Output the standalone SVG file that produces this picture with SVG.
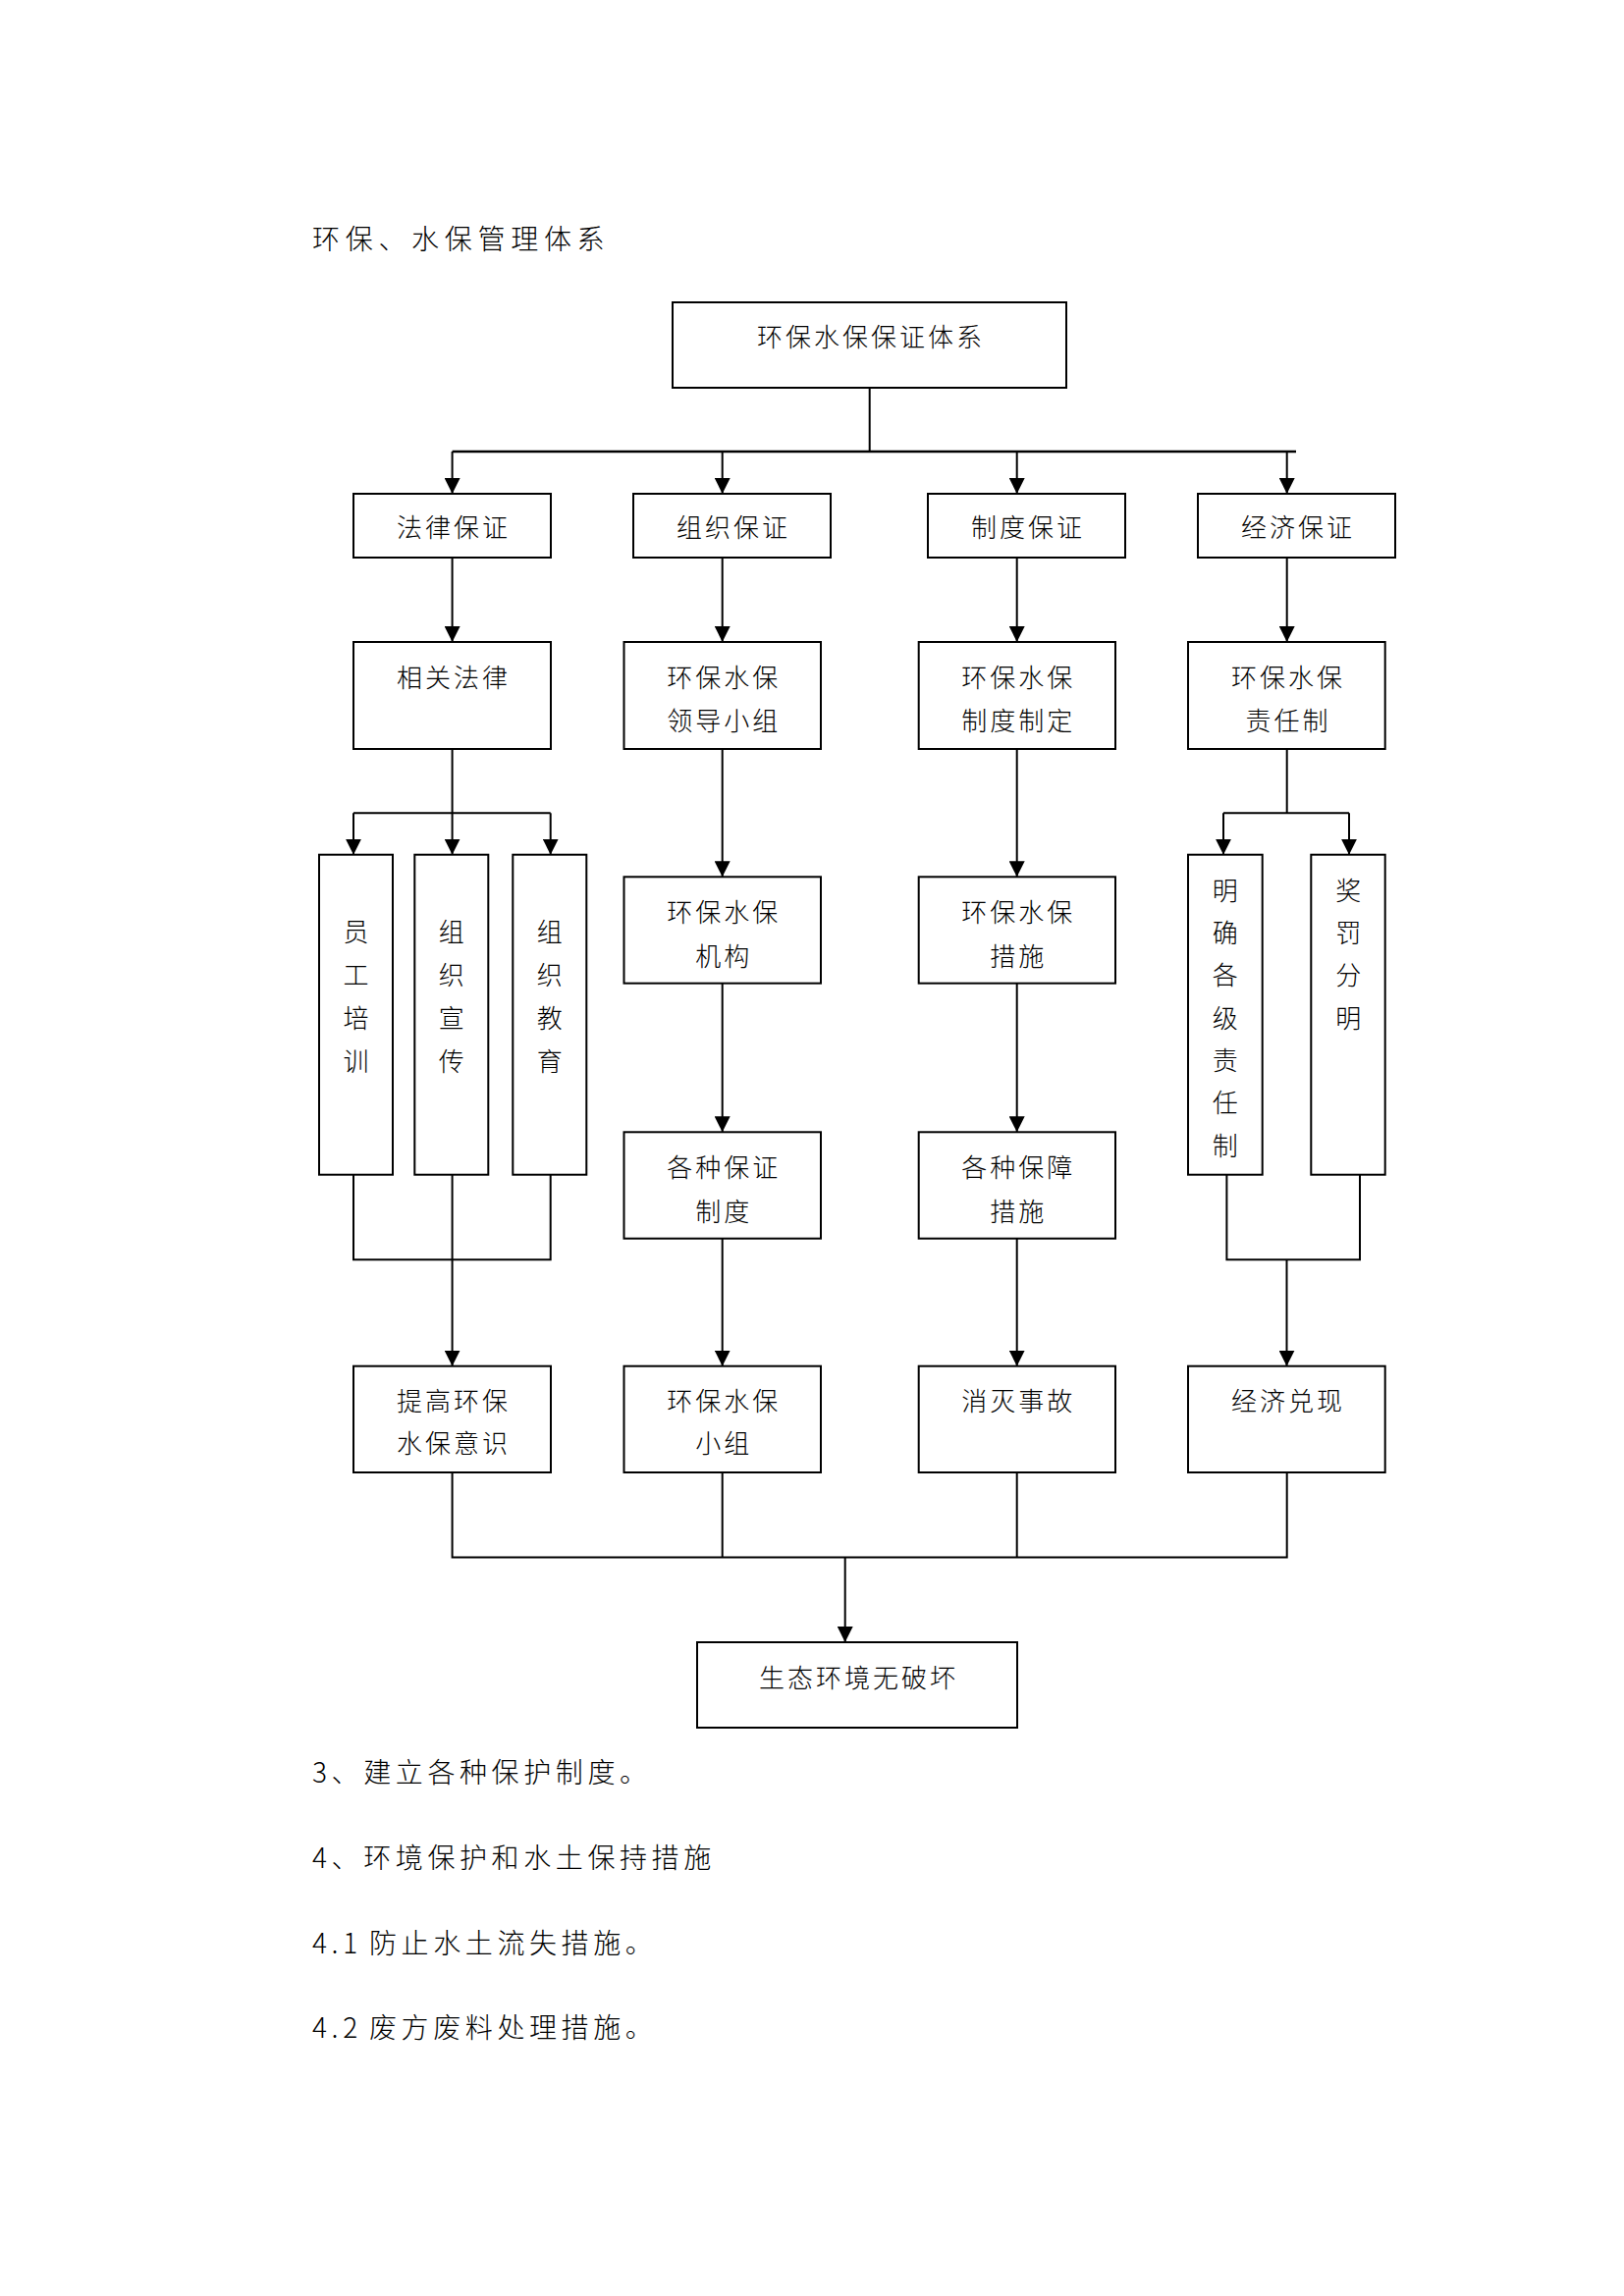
<svg xmlns="http://www.w3.org/2000/svg" width="1654" height="2339" viewBox="0 0 1654 2339">
<style>
.box{fill:#fff;stroke:#000;stroke-width:2}
.ln{fill:none;stroke:#000;stroke-width:2}
.bar{fill:none;stroke:#000;stroke-width:2.6}
.ar{marker-end:url(#arr)}
text{font-family:"Noto Sans CJK SC","Noto Sans",sans-serif;fill:#000;font-weight:300;dominant-baseline:central}
.t{font-size:26px;letter-spacing:3px;text-anchor:middle}
.v{font-size:26px;letter-spacing:0;text-anchor:middle}
.body{font-size:28px;letter-spacing:4.6px;text-anchor:start}
.title{font-size:28px;letter-spacing:5.7px;text-anchor:start}
</style>
<defs>
<marker id="arr" markerUnits="userSpaceOnUse" markerWidth="16" markerHeight="16" viewBox="0 0 16 16" refX="16" refY="8" orient="auto"><path d="M0,0 L16,8 L0,16 z" fill="#000"/></marker>
</defs>
<rect width="1654" height="2339" fill="#fff"/>

<text class="title" x="318" y="242">环保、水保管理体系</text>

<g id="connectors">
<path class="ln" d="M885.7,395 V460"/>
<path class="bar" d="M460.6,460 H1320"/>
<path class="ln ar" d="M460.6,460 V503"/>
<path class="ln ar" d="M735.7,460 V503"/>
<path class="ln ar" d="M1035.7,460 V503"/>
<path class="ln ar" d="M1310.7,460 V503"/>

<path class="ln ar" d="M460.6,568 V654"/>
<path class="ln ar" d="M735.7,568 V654"/>
<path class="ln ar" d="M1035.7,568 V654"/>
<path class="ln ar" d="M1310.7,568 V654"/>

<path class="ln ar" d="M460.6,763 V870.7"/>
<path class="ln" d="M360,828.3 H560.7"/>
<path class="ln ar" d="M360,828.3 V870.7"/>
<path class="ln ar" d="M560.7,828.3 V870.7"/>
<path class="ln" d="M360,1196.7 V1283.3 H560.7 V1196.7"/>
<path class="ln ar" d="M460.6,1196.7 V1391.7"/>

<path class="ln ar" d="M735.7,763 V893.3"/>
<path class="ln ar" d="M735.7,1001.7 V1153.3"/>
<path class="ln ar" d="M735.7,1261.7 V1391.7"/>

<path class="ln ar" d="M1035.7,763 V893.3"/>
<path class="ln ar" d="M1035.7,1001.7 V1153.3"/>
<path class="ln ar" d="M1035.7,1261.7 V1391.7"/>

<path class="ln" d="M1310.7,763 V828.3"/>
<path class="ln" d="M1246,828.3 H1374"/>
<path class="ln ar" d="M1246,828.3 V870.7"/>
<path class="ln ar" d="M1374,828.3 V870.7"/>
<path class="ln" d="M1249.4,1196.7 V1283.3 H1385 V1196.7"/>
<path class="ln ar" d="M1310.5,1283.3 V1391.7"/>

<path class="ln" d="M460.6,1500 V1586.5 H1310.7 V1500"/>
<path class="ln" d="M735.7,1500 V1586.5"/>
<path class="ln" d="M1035.7,1500 V1586.5"/>
<path class="ln ar" d="M860.7,1586.5 V1673"/>
</g>

<g id="n-top"><rect class="box" x="685" y="308" width="401" height="87"/><text class="t" x="887" y="341">环保水保保证体系</text></g>

<g id="n-law"><rect class="box" x="360" y="503" width="201" height="65"/><text class="t" x="462" y="535.5">法律保证</text></g>
<g id="n-org"><rect class="box" x="645" y="503" width="201" height="65"/><text class="t" x="747" y="535.5">组织保证</text></g>
<g id="n-sys"><rect class="box" x="945" y="503" width="201" height="65"/><text class="t" x="1047" y="535.5">制度保证</text></g>
<g id="n-eco"><rect class="box" x="1220" y="503" width="201" height="65"/><text class="t" x="1322" y="535.5">经济保证</text></g>

<g id="n-law2"><rect class="box" x="360" y="654" width="201" height="109"/><text class="t" x="462" y="688">相关法律</text></g>
<g id="n-org2"><rect class="box" x="635.5" y="654" width="200.5" height="109"/><text class="t" x="737.2" y="688">环保水保</text><text class="t" x="737.2" y="732">领导小组</text></g>
<g id="n-sys2"><rect class="box" x="935.7" y="654" width="200.3" height="109"/><text class="t" x="1037.3" y="688">环保水保</text><text class="t" x="1037.3" y="732">制度制定</text></g>
<g id="n-eco2"><rect class="box" x="1210" y="654" width="200.7" height="109"/><text class="t" x="1311.9" y="688">环保水保</text><text class="t" x="1311.9" y="732">责任制</text></g>

<g id="n-v1"><rect class="box" x="325" y="870.7" width="75" height="326"/>
<text class="v" x="362.5" y="947">员</text><text class="v" x="362.5" y="991">工</text><text class="v" x="362.5" y="1035">培</text><text class="v" x="362.5" y="1079">训</text></g>
<g id="n-v2"><rect class="box" x="422.3" y="870.7" width="75" height="326"/>
<text class="v" x="459.8" y="947">组</text><text class="v" x="459.8" y="991">织</text><text class="v" x="459.8" y="1035">宣</text><text class="v" x="459.8" y="1079">传</text></g>
<g id="n-v3"><rect class="box" x="522.3" y="870.7" width="75" height="326"/>
<text class="v" x="559.8" y="947">组</text><text class="v" x="559.8" y="991">织</text><text class="v" x="559.8" y="1035">教</text><text class="v" x="559.8" y="1079">育</text></g>

<g id="n-org3"><rect class="box" x="635.5" y="893.3" width="200.5" height="108.4"/><text class="t" x="737.2" y="927">环保水保</text><text class="t" x="737.2" y="972">机构</text></g>
<g id="n-sys3"><rect class="box" x="935.7" y="893.3" width="200.3" height="108.4"/><text class="t" x="1037.3" y="927">环保水保</text><text class="t" x="1037.3" y="972">措施</text></g>

<g id="n-v4"><rect class="box" x="1210" y="870.7" width="75.7" height="326"/>
<text class="v" x="1247.7" y="905">明</text><text class="v" x="1247.7" y="948.3">确</text><text class="v" x="1247.7" y="991.7">各</text><text class="v" x="1247.7" y="1035">级</text><text class="v" x="1247.7" y="1078.3">责</text><text class="v" x="1247.7" y="1121.7">任</text><text class="v" x="1247.7" y="1165">制</text></g>
<g id="n-v5"><rect class="box" x="1335.3" y="870.7" width="75.4" height="326"/>
<text class="v" x="1373.3" y="905">奖</text><text class="v" x="1373.3" y="948.3">罚</text><text class="v" x="1373.3" y="991.7">分</text><text class="v" x="1373.3" y="1035">明</text></g>

<g id="n-org4"><rect class="box" x="635.5" y="1153.3" width="200.5" height="108.4"/><text class="t" x="737.2" y="1187">各种保证</text><text class="t" x="737.2" y="1232">制度</text></g>
<g id="n-sys4"><rect class="box" x="935.7" y="1153.3" width="200.3" height="108.4"/><text class="t" x="1037.3" y="1187">各种保障</text><text class="t" x="1037.3" y="1232">措施</text></g>

<g id="n-law5"><rect class="box" x="360" y="1391.7" width="201" height="108.3"/><text class="t" x="462" y="1425">提高环保</text><text class="t" x="462" y="1468.5">水保意识</text></g>
<g id="n-org5"><rect class="box" x="635.5" y="1391.7" width="200.5" height="108.3"/><text class="t" x="737.2" y="1425">环保水保</text><text class="t" x="737.2" y="1468.5">小组</text></g>
<g id="n-sys5"><rect class="box" x="935.7" y="1391.7" width="200.3" height="108.3"/><text class="t" x="1037.3" y="1425">消灭事故</text></g>
<g id="n-eco5"><rect class="box" x="1210" y="1391.7" width="200.7" height="108.3"/><text class="t" x="1311.9" y="1425">经济兑现</text></g>

<g id="n-end"><rect class="box" x="710" y="1673" width="326" height="87"/><text class="t" x="874.5" y="1707">生态环境无破坏</text></g>

<text class="body" x="318" y="1803.5">3、建立各种保护制度。</text>
<text class="body" x="318" y="1891">4、环境保护和水土保持措施</text>
<text class="body" y="1977.5"><tspan x="318">4.1</tspan><tspan x="376">防止水土流失措施。</tspan></text>
<text class="body" y="2063.5"><tspan x="318">4.2</tspan><tspan x="376">废方废料处理措施。</tspan></text>
</svg>
